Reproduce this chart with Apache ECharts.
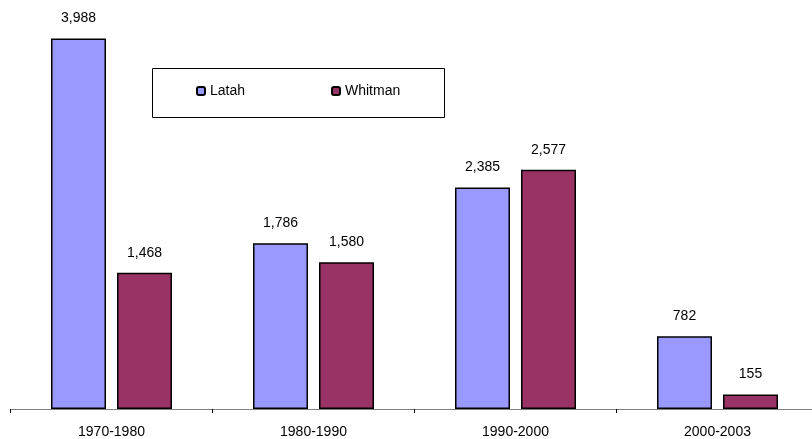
<!DOCTYPE html>
<html>
<head>
<meta charset="utf-8">
<script src="https://cdn.jsdelivr.net/npm/echarts@6/dist/echarts.min.js"></script>
<style>
  html, body { margin: 0; padding: 0; background: #fff; overflow: hidden; }
  /* the axis runs slightly past the right edge of the window */
  #chart { width: 820px; height: 439px; }
</style>
</head>
<body>
<div id="chart"></div>
<script>
// Population change by decade for two counties
const periods = ['1970-1980', '1980-1990', '1990-2000', '2000-2003'];
const latah = [3988, 1786, 2385, 782];
const whitman = [1468, 1580, 2577, 155];

const FONT = '"Liberation Sans", Arial, sans-serif';
const LATAH_COLOR = '#9999FF';
const WHITMAN_COLOR = '#993366';

const chart = echarts.init(document.getElementById('chart'));

const valueLabel = {
  show: true,
  position: 'top',
  distance: 13,
  color: '#000',
  fontFamily: FONT,
  fontSize: 14,
  formatter: p => p.value.toLocaleString('en-US')
};

const legendText = { color: '#000', fontFamily: FONT, fontSize: 14 };

chart.setOption({
  animation: false,
  backgroundColor: '#fff',
  grid: { left: 10.5, width: 808, top: 37.5, bottom: 29.5, containLabel: false },
  graphic: [{
    type: 'rect',
    shape: { x: 152.5, y: 68.5, width: 292, height: 49 },
    style: { fill: '#fff', stroke: '#000', lineWidth: 1 },
    z: 1
  }],
  legend: [
    {
      data: ['Latah'], left: 196, top: 84, itemWidth: 8, itemHeight: 8, itemGap: 0,
      textStyle: legendText, padding: 0, z: 5
    },
    {
      data: ['Whitman'], left: 331, top: 84, itemWidth: 8, itemHeight: 8, itemGap: 0,
      textStyle: legendText, padding: 0, z: 5
    }
  ],
  xAxis: {
    type: 'category',
    data: periods,
    boundaryGap: true,
    axisLine: { lineStyle: { color: '#808080', width: 1 } },
    axisTick: { show: true, length: 4, lineStyle: { color: '#000' } },
    axisLabel: { color: '#000', fontFamily: FONT, fontSize: 14, margin: 16 }
  },
  yAxis: {
    type: 'value',
    min: 0,
    max: 4000,
    show: false,
    splitLine: { show: false }
  },
  series: [
    {
      name: 'Latah',
      type: 'bar',
      data: latah,
      barWidth: 55,
      barGap: '20%',
      itemStyle: { color: LATAH_COLOR, borderColor: '#000', borderWidth: 1.5 },
      label: valueLabel
    },
    {
      name: 'Whitman',
      type: 'bar',
      data: whitman,
      barWidth: 55,
      itemStyle: { color: WHITMAN_COLOR, borderColor: '#000', borderWidth: 1.5 },
      label: valueLabel
    }
  ]
});
</script>
</body>
</html>
